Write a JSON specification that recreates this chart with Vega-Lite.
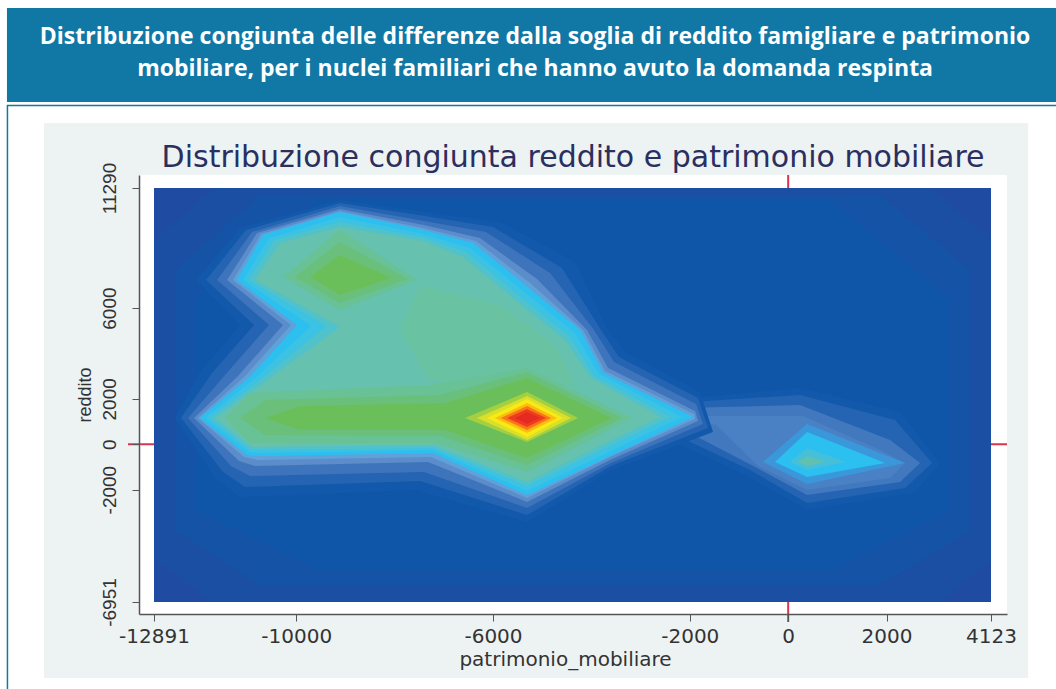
{"$schema":"https://vega.github.io/schema/vega-lite/v6.json","width":868,"height":439,"autosize":"none","padding":{"left":139,"top":175,"right":49,"bottom":75},"background":"white","view":{"stroke":null},
"encoding":{"x":{"field":"x","type":"quantitative","scale":{"domain":[-13196,4448],"nice":false,"zero":false},"axis":{"values":[-12891,-10000,-6000,-2000,0,2000,4123],"labelExpr":"''+datum.value","grid":false,"title":"patrimonio_mobiliare","titleFont":"DejaVu Sans","titleFontSize":20,"titleFontWeight":"normal","titleColor":"#333","titlePadding":3,"titleX":426,"labelFont":"DejaVu Sans","labelFontSize":20,"labelColor":"#333","labelPadding":5,"tickColor":"#555","domainColor":"#555","domainWidth":1.5,"tickSize":7,"zindex":1,"labelOverlap":false,"labelFlush":false}},
"y":{"field":"y","type":"quantitative","scale":{"domain":[-7480,11863],"nice":false,"zero":false},"axis":{"values":[-6951,-2000,0,2000,6000,11290],"labelExpr":"''+datum.value","grid":false,"title":"reddito","titleFont":"Liberation Sans","titleFontSize":18,"titleFontWeight":"normal","titleColor":"#333","titlePadding":6,"labelFont":"Liberation Sans","labelFontSize":19,"labelColor":"#333","labelAngle":270,"labelAlign":"center","labelBaseline":"bottom","labelPadding":13,"tickColor":"#555","domainColor":"#555","domainWidth":1.5,"tickSize":7,"zindex":1,"labelOverlap":false}}},
"layer":[
{"data":{"values":[{"x":-15870,"x2":5800,"y":14925,"y2":-11270}]},"mark":{"type":"rect","fill":"white","stroke":"#1178a5","strokeWidth":1.5},"encoding":{"x2":{"field":"x2"},"y2":{"field":"y2"}}},
{"data":{"values":[{"x":-15880,"x2":5800,"y":19220,"y2":15079}]},"mark":{"type":"rect","fill":"#1178a5"},"encoding":{"x2":{"field":"x2"},"y2":{"field":"y2"}}},
{"data":{"values":[{"x":-15127,"x2":4878,"y":14153,"y2":-10300}]},"mark":{"type":"rect","fill":"#edf2f3"},"encoding":{"x2":{"field":"x2"},"y2":{"field":"y2"}}},
{"data":{"values":[{"x":-13196,"x2":4448,"y":-7480,"y2":11863}]},"mark":{"type":"rect","fill":"white"},"encoding":{"x2":{"field":"x2"},"y2":{"field":"y2"}}},
{"data":{"values":[{"x":0,"y":-7830,"y2":11863}]},"mark":{"type":"rule","color":"#d8344f","strokeWidth":2},"encoding":{"y2":{"field":"y2"}}},
{"data":{"values":[{"x":-13420,"x2":4448,"y":0}]},"mark":{"type":"rule","color":"#d8344f","strokeWidth":2},"encoding":{"x2":{"field":"x2"}}},
{"data":{"values":[
{"p":"r0","d":0,"x":-12891,"y":11290},{"p":"r0","d":0,"x":4123,"y":11290},{"p":"r0","d":0,"x":4123,"y":-6951},{"p":"r0","d":0,"x":-12891,"y":-6951},
{"p":"r1","d":1,"x":-11651,"y":11290},{"p":"r1","d":1,"x":2885,"y":11290},{"p":"r1","d":1,"x":4123,"y":8999},{"p":"r1","d":1,"x":4123,"y":-5101},{"p":"r1","d":1,"x":3088,"y":-6951},{"p":"r1","d":1,"x":-11651,"y":-6951},{"p":"r1","d":1,"x":-12891,"y":-5101},{"p":"r1","d":1,"x":-12891,"y":8999},
{"p":"r2","d":2,"x":-10736,"y":10981},{"p":"r2","d":2,"x":1868,"y":10981},{"p":"r2","d":2,"x":3698,"y":7677},{"p":"r2","d":2,"x":3698,"y":-3779},{"p":"r2","d":2,"x":1868,"y":-6202},{"p":"r2","d":2,"x":-10736,"y":-6202},{"p":"r2","d":2,"x":-12464,"y":-3779},{"p":"r2","d":2,"x":-12464,"y":7677},
{"p":"r3","d":3,"x":-9516,"y":10761},{"p":"r3","d":3,"x":852,"y":10761},{"p":"r3","d":3,"x":3292,"y":6355},{"p":"r3","d":3,"x":3292,"y":-2898},{"p":"r3","d":3,"x":852,"y":-5541},{"p":"r3","d":3,"x":-9516,"y":-5541},{"p":"r3","d":3,"x":-12058,"y":-2898},{"p":"r3","d":3,"x":-12058,"y":6355},
{"p":"p0","d":4,"x":-2401,"y":1949},{"p":"p0","d":4,"x":242,"y":2478},{"p":"p0","d":4,"x":2275,"y":1420},{"p":"p0","d":4,"x":3088,"y":-827},{"p":"p0","d":4,"x":2580,"y":-2104},{"p":"p0","d":4,"x":384,"y":-2897},{"p":"p0","d":4,"x":-876,"y":-1355},{"p":"p0","d":4,"x":-2401,"y":187},
{"p":"p1","d":5,"x":-2299,"y":1817},{"p":"p1","d":5,"x":242,"y":2169},{"p":"p1","d":5,"x":2173,"y":1068},{"p":"p1","d":5,"x":2926,"y":-827},{"p":"p1","d":5,"x":2377,"y":-1928},{"p":"p1","d":5,"x":384,"y":-2589},{"p":"p1","d":5,"x":-775,"y":-1135},{"p":"p1","d":5,"x":-2299,"y":407},
{"p":"p2","d":23,"x":-2197,"y":1597},{"p":"p2","d":23,"x":242,"y":1729},{"p":"p2","d":23,"x":2072,"y":187},{"p":"p2","d":23,"x":2682,"y":-827},{"p":"p2","d":23,"x":2275,"y":-1664},{"p":"p2","d":23,"x":384,"y":-2237},{"p":"p2","d":23,"x":-673,"y":-1003},{"p":"p2","d":23,"x":-2197,"y":715},
{"p":"p3","d":24,"x":-2096,"y":1244},{"p":"p3","d":24,"x":303,"y":1244},{"p":"p3","d":24,"x":1868,"y":-254},{"p":"p3","d":24,"x":2377,"y":-827},{"p":"p3","d":24,"x":2072,"y":-1488},{"p":"p3","d":24,"x":384,"y":-2016},{"p":"p3","d":24,"x":-612,"y":-959},{"p":"p3","d":24,"x":-1466,"y":848},{"p":"p3","d":24,"x":-2096,"y":980},
{"p":"b0","d":25,"x":384,"y":892},{"p":"b0","d":25,"x":-510,"y":-783},{"p":"b0","d":25,"x":384,"y":-1752},{"p":"b0","d":25,"x":2377,"y":-827},
{"p":"b1","d":26,"x":384,"y":539},{"p":"b1","d":26,"x":-266,"y":-783},{"p":"b1","d":26,"x":384,"y":-1443},{"p":"b1","d":26,"x":1970,"y":-827},
{"p":"b2","d":27,"x":384,"y":-166},{"p":"b2","d":27,"x":39,"y":-783},{"p":"b2","d":27,"x":384,"y":-1135},{"p":"b2","d":27,"x":1157,"y":-783},
{"p":"b3","d":28,"x":384,"y":-519},{"p":"b3","d":28,"x":201,"y":-783},{"p":"b3","d":28,"x":384,"y":-959},{"p":"b3","d":28,"x":750,"y":-783},
{"p":"a0","d":4,"x":-9110,"y":10761},{"p":"a0","d":4,"x":-11143,"y":9527},{"p":"a0","d":4,"x":-12037,"y":7236},{"p":"a0","d":4,"x":-11143,"y":5253},{"p":"a0","d":4,"x":-11956,"y":3183},{"p":"a0","d":4,"x":-12464,"y":1156},{"p":"a0","d":4,"x":-11651,"y":-1488},{"p":"a0","d":4,"x":-11143,"y":-2324},{"p":"a0","d":4,"x":-7585,"y":-2016},{"p":"a0","d":4,"x":-5308,"y":-3426},{"p":"a0","d":4,"x":-3580,"y":-1135},{"p":"a0","d":4,"x":-1527,"y":539},{"p":"a0","d":4,"x":-1791,"y":2301},{"p":"a0","d":4,"x":-3316,"y":4064},{"p":"a0","d":4,"x":-3661,"y":5033},{"p":"a0","d":4,"x":-4332,"y":8029},{"p":"a0","d":4,"x":-5857,"y":9792},{"p":"a0","d":4,"x":-7382,"y":10232},
{"p":"a1","d":5,"x":-9110,"y":10629},{"p":"a1","d":5,"x":-11021,"y":9439},{"p":"a1","d":5,"x":-11834,"y":7236},{"p":"a1","d":5,"x":-10858,"y":5253},{"p":"a1","d":5,"x":-11712,"y":3139},{"p":"a1","d":5,"x":-12342,"y":1156},{"p":"a1","d":5,"x":-11488,"y":-1223},{"p":"a1","d":5,"x":-11041,"y":-1884},{"p":"a1","d":5,"x":-7483,"y":-1620},{"p":"a1","d":5,"x":-5308,"y":-3118},{"p":"a1","d":5,"x":-3600,"y":-959},{"p":"a1","d":5,"x":-1628,"y":715},{"p":"a1","d":5,"x":-1832,"y":2037},{"p":"a1","d":5,"x":-3438,"y":3843},{"p":"a1","d":5,"x":-3804,"y":5033},{"p":"a1","d":5,"x":-4597,"y":7765},{"p":"a1","d":5,"x":-6000,"y":9571},{"p":"a1","d":5,"x":-7382,"y":10056},
{"p":"a2","d":6,"x":-9110,"y":10497},{"p":"a2","d":6,"x":-10899,"y":9351},{"p":"a2","d":6,"x":-11610,"y":7236},{"p":"a2","d":6,"x":-10553,"y":5253},{"p":"a2","d":6,"x":-11448,"y":3051},{"p":"a2","d":6,"x":-12200,"y":1156},{"p":"a2","d":6,"x":-11326,"y":-959},{"p":"a2","d":6,"x":-10940,"y":-1399},{"p":"a2","d":6,"x":-7402,"y":-1223},{"p":"a2","d":6,"x":-5308,"y":-2809},{"p":"a2","d":6,"x":-3600,"y":-827},{"p":"a2","d":6,"x":-1730,"y":892},{"p":"a2","d":6,"x":-1872,"y":1773},{"p":"a2","d":6,"x":-3539,"y":3623},{"p":"a2","d":6,"x":-3946,"y":5033},{"p":"a2","d":6,"x":-4840,"y":7545},{"p":"a2","d":6,"x":-6142,"y":9351},{"p":"a2","d":6,"x":-7402,"y":9836},
{"p":"a3","d":7,"x":-9110,"y":10364},{"p":"a3","d":7,"x":-10797,"y":9307},{"p":"a3","d":7,"x":-11407,"y":7236},{"p":"a3","d":7,"x":-10269,"y":5253},{"p":"a3","d":7,"x":-11183,"y":3007},{"p":"a3","d":7,"x":-12078,"y":1156},{"p":"a3","d":7,"x":-11163,"y":-739},{"p":"a3","d":7,"x":-10838,"y":-959},{"p":"a3","d":7,"x":-7321,"y":-783},{"p":"a3","d":7,"x":-5308,"y":-2545},{"p":"a3","d":7,"x":-3621,"y":-695},{"p":"a3","d":7,"x":-1832,"y":1024},{"p":"a3","d":7,"x":-1893,"y":1465},{"p":"a3","d":7,"x":-3661,"y":3359},{"p":"a3","d":7,"x":-4088,"y":5033},{"p":"a3","d":7,"x":-5105,"y":7280},{"p":"a3","d":7,"x":-6264,"y":9087},{"p":"a3","d":7,"x":-7402,"y":9660},
{"p":"a4","d":8,"x":-9110,"y":10277},{"p":"a4","d":8,"x":-10716,"y":9263},{"p":"a4","d":8,"x":-11285,"y":7236},{"p":"a4","d":8,"x":-10106,"y":5253},{"p":"a4","d":8,"x":-11041,"y":3007},{"p":"a4","d":8,"x":-11997,"y":1156},{"p":"a4","d":8,"x":-11061,"y":-563},{"p":"a4","d":8,"x":-10777,"y":-695},{"p":"a4","d":8,"x":-7260,"y":-563},{"p":"a4","d":8,"x":-5308,"y":-2368},{"p":"a4","d":8,"x":-3621,"y":-563},{"p":"a4","d":8,"x":-1893,"y":1112},{"p":"a4","d":8,"x":-1913,"y":1332},{"p":"a4","d":8,"x":-3722,"y":3227},{"p":"a4","d":8,"x":-4170,"y":5033},{"p":"a4","d":8,"x":-5247,"y":7104},{"p":"a4","d":8,"x":-6345,"y":8955},{"p":"a4","d":8,"x":-7423,"y":9527},
{"p":"v","d":9,"x":-9110,"y":10232},{"p":"v","d":9,"x":-10675,"y":9219},{"p":"v","d":9,"x":-11204,"y":7236},{"p":"v","d":9,"x":-9984,"y":5253},{"p":"v","d":9,"x":-10940,"y":2962},{"p":"v","d":9,"x":-11956,"y":1156},{"p":"v","d":9,"x":-11000,"y":-474},{"p":"v","d":9,"x":-10736,"y":-519},{"p":"v","d":9,"x":-7219,"y":-386},{"p":"v","d":9,"x":-5308,"y":-2237},{"p":"v","d":9,"x":-3621,"y":-519},{"p":"v","d":9,"x":-1933,"y":1200},{"p":"v","d":9,"x":-3763,"y":3139},{"p":"v","d":9,"x":-4231,"y":5033},{"p":"v","d":9,"x":-5349,"y":7016},{"p":"v","d":9,"x":-6406,"y":8867},{"p":"v","d":9,"x":-7423,"y":9439},
{"p":"u1","d":10,"x":-9110,"y":10012},{"p":"u1","d":10,"x":-10553,"y":9087},{"p":"u1","d":10,"x":-11082,"y":7236},{"p":"u1","d":10,"x":-9700,"y":5209},{"p":"u1","d":10,"x":-10879,"y":2830},{"p":"u1","d":10,"x":-11854,"y":1156},{"p":"u1","d":10,"x":-10960,"y":-342},{"p":"u1","d":10,"x":-10696,"y":-386},{"p":"u1","d":10,"x":-7219,"y":-254},{"p":"u1","d":10,"x":-5308,"y":-2060},{"p":"u1","d":10,"x":-3682,"y":-386},{"p":"u1","d":10,"x":-2157,"y":1200},{"p":"u1","d":10,"x":-3844,"y":3095},{"p":"u1","d":10,"x":-4332,"y":4901},{"p":"u1","d":10,"x":-5410,"y":6796},{"p":"u1","d":10,"x":-6467,"y":8647},{"p":"u1","d":10,"x":-7423,"y":9263},
{"p":"u2","d":11,"x":-9110,"y":9792},{"p":"u2","d":11,"x":-10452,"y":8999},{"p":"u2","d":11,"x":-10960,"y":7236},{"p":"u2","d":11,"x":-9394,"y":5209},{"p":"u2","d":11,"x":-10838,"y":2654},{"p":"u2","d":11,"x":-11753,"y":1156},{"p":"u2","d":11,"x":-10940,"y":-254},{"p":"u2","d":11,"x":-10675,"y":-254},{"p":"u2","d":11,"x":-7219,"y":-166},{"p":"u2","d":11,"x":-5308,"y":-1840},{"p":"u2","d":11,"x":-3763,"y":-210},{"p":"u2","d":11,"x":-2380,"y":1200},{"p":"u2","d":11,"x":-3946,"y":3007},{"p":"u2","d":11,"x":-4434,"y":4725},{"p":"u2","d":11,"x":-5491,"y":6575},{"p":"u2","d":11,"x":-6548,"y":8470},{"p":"u2","d":11,"x":-7423,"y":9131},
{"p":"t","d":12,"x":-9110,"y":9571},{"p":"t","d":12,"x":-10330,"y":8867},{"p":"t","d":12,"x":-10838,"y":7236},{"p":"t","d":12,"x":-9110,"y":5165},{"p":"t","d":12,"x":-10777,"y":2522},{"p":"t","d":12,"x":-11651,"y":1156},{"p":"t","d":12,"x":-10899,"y":-122},{"p":"t","d":12,"x":-10635,"y":-122},{"p":"t","d":12,"x":-7219,"y":-34},{"p":"t","d":12,"x":-5308,"y":-1664},{"p":"t","d":12,"x":-3824,"y":-78},{"p":"t","d":12,"x":-2604,"y":1200},{"p":"t","d":12,"x":-4027,"y":2962},{"p":"t","d":12,"x":-4535,"y":4593},{"p":"t","d":12,"x":-5552,"y":6355},{"p":"t","d":12,"x":-6609,"y":8250},{"p":"t","d":12,"x":-7423,"y":8955},
{"p":"tt","d":29,"x":-7483,"y":7016},{"p":"tt","d":29,"x":-5857,"y":6135},{"p":"tt","d":29,"x":-4739,"y":4372},{"p":"tt","d":29,"x":-4332,"y":2610},{"p":"tt","d":29,"x":-7280,"y":2742},{"p":"tt","d":29,"x":-7890,"y":5033},
{"p":"l1","d":13,"x":-9110,"y":9439},{"p":"l1","d":13,"x":-10269,"y":7368},{"p":"l1","d":13,"x":-9110,"y":5915},{"p":"l1","d":13,"x":-7544,"y":7236},
{"p":"l2","d":14,"x":-9110,"y":8911},{"p":"l2","d":14,"x":-10025,"y":7368},{"p":"l2","d":14,"x":-9110,"y":6223},{"p":"l2","d":14,"x":-7727,"y":7280},
{"p":"l3","d":15,"x":-9110,"y":8338},{"p":"l3","d":15,"x":-9720,"y":7368},{"p":"l3","d":15,"x":-9110,"y":6575},{"p":"l3","d":15,"x":-8053,"y":7324},
{"p":"g1","d":13,"x":-11448,"y":1156},{"p":"g1","d":13,"x":-10940,"y":2258},{"p":"g1","d":13,"x":-7280,"y":2610},{"p":"g1","d":13,"x":-5308,"y":3359},{"p":"g1","d":13,"x":-3173,"y":1156},{"p":"g1","d":13,"x":-5308,"y":-1223},{"p":"g1","d":13,"x":-7178,"y":54},{"p":"g1","d":13,"x":-10940,"y":54},
{"p":"g2","d":14,"x":-11143,"y":1156},{"p":"g2","d":14,"x":-10635,"y":1949},{"p":"g2","d":14,"x":-7077,"y":2169},{"p":"g2","d":14,"x":-5308,"y":3183},{"p":"g2","d":14,"x":-3377,"y":1156},{"p":"g2","d":14,"x":-5308,"y":-915},{"p":"g2","d":14,"x":-7077,"y":363},{"p":"g2","d":14,"x":-10635,"y":407},
{"p":"g3","d":15,"x":-10635,"y":1156},{"p":"g3","d":15,"x":-9923,"y":1685},{"p":"g3","d":15,"x":-6975,"y":1817},{"p":"g3","d":15,"x":-5308,"y":2918},{"p":"g3","d":15,"x":-3580,"y":1156},{"p":"g3","d":15,"x":-5308,"y":-607},{"p":"g3","d":15,"x":-6975,"y":627},{"p":"g3","d":15,"x":-9923,"y":627},
{"p":"c16","d":16,"x":-6568,"y":1156},{"p":"c16","d":16,"x":-5308,"y":2301},{"p":"c16","d":16,"x":-4271,"y":1156},{"p":"c16","d":16,"x":-5308,"y":99},
{"p":"c17","d":17,"x":-6324,"y":1156},{"p":"c17","d":17,"x":-5308,"y":2125},{"p":"c17","d":17,"x":-4414,"y":1156},{"p":"c17","d":17,"x":-5308,"y":187},
{"p":"c18","d":18,"x":-6121,"y":1156},{"p":"c18","d":18,"x":-5308,"y":1993},{"p":"c18","d":18,"x":-4576,"y":1156},{"p":"c18","d":18,"x":-5308,"y":319},
{"p":"c19","d":19,"x":-5959,"y":1156},{"p":"c19","d":19,"x":-5308,"y":1817},{"p":"c19","d":19,"x":-4698,"y":1156},{"p":"c19","d":19,"x":-5308,"y":495},
{"p":"c20","d":20,"x":-5837,"y":1156},{"p":"c20","d":20,"x":-5308,"y":1685},{"p":"c20","d":20,"x":-4820,"y":1156},{"p":"c20","d":20,"x":-5308,"y":627},
{"p":"c21","d":21,"x":-5715,"y":1156},{"p":"c21","d":21,"x":-5308,"y":1553},{"p":"c21","d":21,"x":-4922,"y":1156},{"p":"c21","d":21,"x":-5308,"y":760},
{"p":"c22","d":22,"x":-5552,"y":1156},{"p":"c22","d":22,"x":-5308,"y":1420},{"p":"c22","d":22,"x":-5044,"y":1156},{"p":"c22","d":22,"x":-5308,"y":892}
]},"mark":{"type":"line","strokeWidth":0,"stroke":null},"encoding":{"detail":{"field":"p"},"order":{"value":null},"fill":{"field":"d","type":"quantitative","legend":null,"scale":{"domain":[0,1,2,3,4,5,6,7,8,9,10,11,12,13,14,15,16,17,18,19,20,21,22,23,24,25,26,27,28,29],"range":["#1f4ca2","#1b4fa4","#1553a7","#0f56a9","#1259ab","#2464b2","#3d74bb","#5c8cc9","#5fa2d9","#2cc0f0","#3cc2e2","#50c2cc","#66c1ae","#69c196","#6ac07a","#6bbf5a","#a4cf40","#d8e02c","#f8ea14","#fcbc10","#f87818","#ee3c20","#e62a22","#4278be","#4a80c4","#3a98da","#2cc0f0","#45c0d8","#62c0b0","#69c2a2"]}}}},
{"data":{"values":[{"x":-5145,"y":17943,"t":"Distribuzione congiunta delle differenze dalla soglia di reddito famigliare e patrimonio"},{"x":-5145,"y":16533,"t":"mobiliare, per i nuclei familiari che hanno avuto la domanda respinta"}]},"mark":{"type":"text","font":"Open Sans","fontWeight":"bold","fontSize":23,"color":"white","align":"center","baseline":"middle"},"encoding":{"text":{"field":"t"}}},
{"data":{"values":[{"x":-4373,"y":12612,"t":"Distribuzione congiunta reddito e patrimonio mobiliare"}]},"mark":{"type":"text","font":"DejaVu Sans","fontSize":30,"color":"#2a2f60","align":"center","baseline":"middle"},"encoding":{"text":{"field":"t"}}}
]}
